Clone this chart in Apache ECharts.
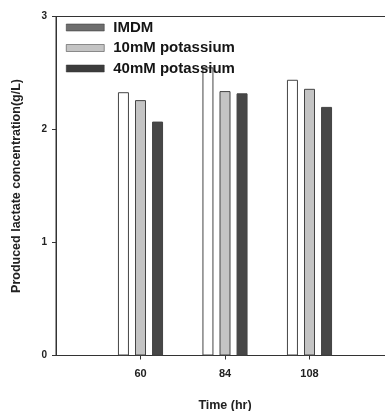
<!DOCTYPE html>
<html>
<head>
<meta charset="utf-8">
<script src="https://cdn.jsdelivr.net/npm/echarts@6/dist/echarts.min.js"></script>
<style>html,body{margin:0;padding:0;background:#fff}#c{width:385px;height:411px}</style>
</head>
<body>
<div id="c"></div>
<script>
var times = [60, 84, 108];
var seriesNames = ['IMDM', '10mM potassium', '40mM potassium'];
var imdm = [2.33, 2.55, 2.44];
var k10 = [2.26, 2.34, 2.36];
var k40 = [2.07, 2.32, 2.20];
var yTicks = [0, 1, 2, 3];

var barColors = ['#ffffff', '#c4c4c4', '#474747'];
var legendColors = ['#6e6e6e', '#c4c4c4', '#3c3c3c'];
var values = [imdm, k10, k40];
var font = '"Liberation Sans", Arial, sans-serif';

var chart = echarts.init(document.getElementById('c'), null, {renderer: 'canvas'});
var series = seriesNames.map(function (n, i) {
  return {
    name: n,
    type: 'bar',
    barWidth: 11,
    barGap: '55%',
    data: times.map(function (t, j) { return [t, values[i][j]]; }),
    itemStyle: {color: barColors[i], borderColor: '#444', borderWidth: 1},
    z: 1
  };
});
chart.setOption({
  animation: false,
  grid: {left: 56, width: 338, top: 16.5, height: 339, containLabel: false, outerBoundsMode: 'none',
         show: true, borderColor: '#333', borderWidth: 1, backgroundColor: 'transparent'},
  legend: {
    orient: 'vertical', left: 61, top: 15, itemWidth: 38, itemHeight: 7, itemGap: 5.5, icon: 'rect',
    z: 5,
    textStyle: {fontFamily: font, fontWeight: 'bold', fontSize: 15, color: '#151515', padding: [0, 0, 0, 4]},
    data: seriesNames.map(function (n, i) {
      return {name: n, itemStyle: {color: legendColors[i], borderColor: '#333', borderWidth: 0.5}};
    })
  },
  xAxis: {
    type: 'value', min: 36, max: 132, interval: 24,
    name: 'Time (hr)', nameLocation: 'middle', nameGap: 44,
    nameTextStyle: {fontFamily: font, fontWeight: 'bold', fontSize: 12.5, color: '#222'},
    splitLine: {show: false},
    axisLine: {lineStyle: {color: '#333', width: 1}},
    axisTick: {length: 4, lineStyle: {color: '#333'}},
    axisLabel: {showMinLabel: false, showMaxLabel: false, fontFamily: font, fontWeight: 'bold', fontSize: 11, color: '#222', margin: 13}
  },
  yAxis: {
    type: 'value', min: yTicks[0], max: yTicks[yTicks.length - 1], interval: 1,
    name: 'Produced lactate concentration(g/L)', nameLocation: 'middle', nameGap: 33,
    nameTextStyle: {fontFamily: font, fontWeight: 'bold', fontSize: 12.5, color: '#222'},
    splitLine: {show: false},
    axisLine: {lineStyle: {color: '#333', width: 1}},
    axisTick: {length: 4, lineStyle: {color: '#333'}},
    axisLabel: {fontFamily: font, fontWeight: 'bold', fontSize: 10, color: '#222', margin: 9}
  },
  series: series
});
</script>
</body>
</html>
